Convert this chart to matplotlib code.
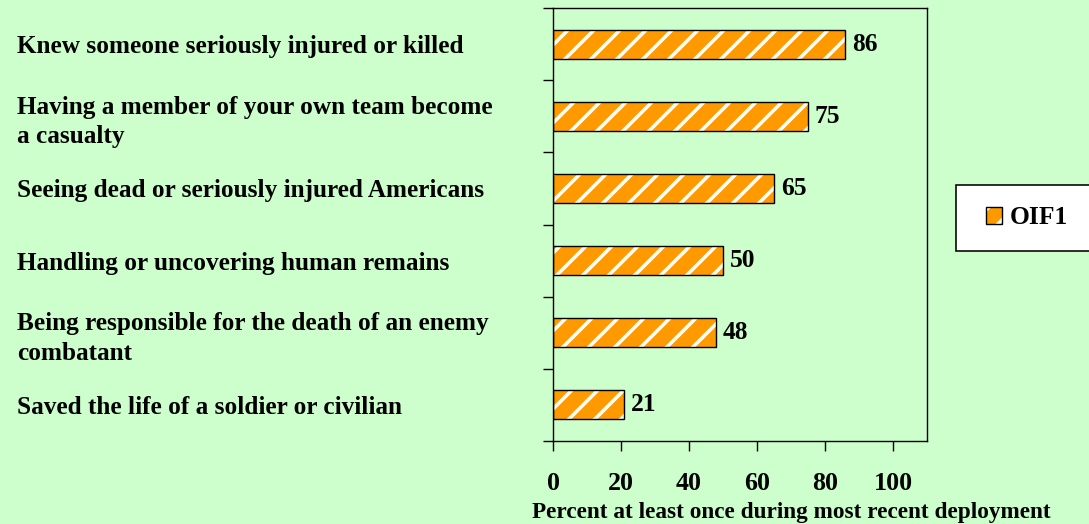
import matplotlib.pyplot as plt
from matplotlib.patches import Patch, Rectangle

categories = [
    "Knew someone seriously injured or killed",
    "Having a member of your own team become\na casualty",
    "Seeing dead or seriously injured Americans",
    "Handling or uncovering human remains",
    "Being responsible for the death of an enemy\ncombatant",
    "Saved the life of a soldier or civilian",
]
values = [86, 75, 65, 50, 48, 21]
series_name = "OIF1"
xticks = [0, 20, 40, 60, 80, 100]

bg = "#CCFFCC"
orange = "#FF9900"

# dpi 78 so the '/' hatch repeats about every 13 px like the original
DPI = 78
W, H = 1089, 524


def pt(px):
    # pixel size -> points at this dpi
    return px * 72 / DPI


plt.rcParams["font.family"] = ["Liberation Serif", "DejaVu Serif"]
plt.rcParams["font.weight"] = "bold"
plt.rcParams["hatch.linewidth"] = pt(3.6)

fig = plt.figure(figsize=(W / DPI, H / DPI), dpi=DPI, facecolor=bg)
ax = fig.add_axes([553 / W, 1 - 441 / H, (927 - 553) / W, (441 - 8) / H])
ax.set_facecolor(bg)

y = list(range(len(categories)))
ax.barh(y, values, height=0.4, color=orange, edgecolor="white", hatch="/", linewidth=0)
ax.barh(y, values, height=0.4, fill=False, edgecolor="black", linewidth=pt(1.4))

for yi, v in zip(y, values):
    ax.text(v + 2, yi, str(v), va="center", ha="left", fontsize=pt(25.5), fontweight="bold")

ax.set_xlim(0, 110)
ax.set_ylim(len(categories) - 0.5, -0.5)

ax.set_xticks(xticks)
ax.set_xticklabels([str(t) for t in xticks], fontsize=pt(26), fontweight="bold")
ax.tick_params(axis="x", direction="out", length=pt(9.5), width=pt(1.4), pad=pt(22))

ax.set_yticks(y)
ax.set_yticklabels(categories, fontsize=pt(25.2), fontweight="bold", ha="left",
                   linespacing=1.35)
ax.tick_params(axis="y", which="major", length=0, pad=pt(536))
ax.set_yticks([i - 0.5 for i in range(len(categories) + 1)], minor=True)
ax.tick_params(axis="y", which="minor", direction="out", length=pt(10.5), width=pt(1.4))

for s in ax.spines.values():
    s.set_linewidth(pt(1.4))
    s.set_color("black")

ax.set_xlabel("Percent at least once during most recent deployment",
              fontsize=pt(23.3), fontweight="bold")
ax.xaxis.set_label_coords(0.636, -0.14)

# legend box running off the right edge
fig.patches.append(Rectangle((956 / W, 1 - 251 / H), 0.2, (251 - 185) / H,
                             transform=fig.transFigure, facecolor="white",
                             edgecolor="black", linewidth=pt(1.6), zorder=0))
h1 = Patch(facecolor=orange, edgecolor="white", hatch="/", linewidth=0)
h2 = Patch(fill=False, edgecolor="black", linewidth=pt(1.4))
fig.legend([(h1, h2)], [series_name], loc="center left",
           bbox_to_anchor=(986 / W, 1 - 218 / H), frameon=False,
           fontsize=pt(25.5), handlelength=0.62, handleheight=0.62,
           handletextpad=0.3, borderpad=0, borderaxespad=0)

fig.savefig("out.png", dpi=DPI, facecolor=bg)
